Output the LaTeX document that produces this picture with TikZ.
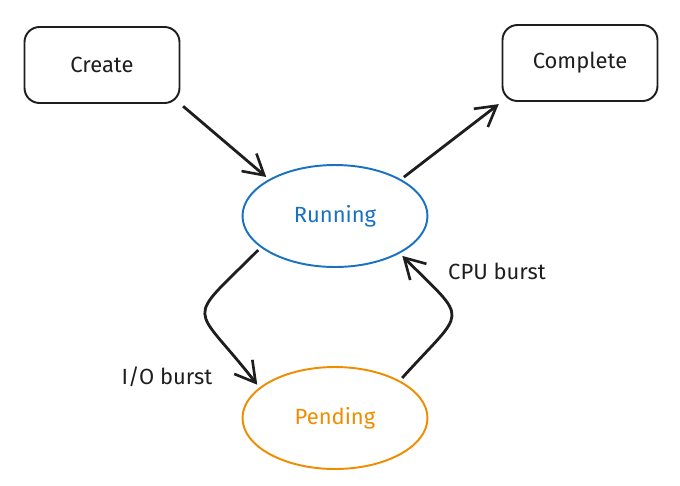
\documentclass[tikz,border=0pt]{standalone}
\usepackage{fontspec}
\setmainfont{Fira Sans}
\usepackage{xcolor}
\usetikzlibrary{shapes.geometric,arrows.meta}
\definecolor{runblue}{HTML}{1971C2}
\definecolor{pendorange}{HTML}{F08C00}
\definecolor{ink}{HTML}{1E1E1E}

\begin{document}
\begin{tikzpicture}[x=0.02cm,y=-0.02cm,
  every node/.style={font=\fontsize{12.5}{15}\selectfont,text=ink},
  state/.style={draw=ink,line width=1.1pt,rounded corners=3mm,minimum width=3.1cm,minimum height=1.52cm},
  proc/.style={ellipse,line width=1.1pt,minimum width=3.7cm,minimum height=2.04cm,inner sep=0pt},
  arr/.style={draw=ink,line width=1.6pt,-{Straight Barb[length=4mm,width=4.6mm,line width=1.5pt]},shorten <=2pt,shorten >=2pt}]
\useasboundingbox (0,0) rectangle (680,485);
\node[state] (create) at (102,65) {Create};
\node[state] (complete) at (580,63) {Complete};
\node[proc,draw=runblue,text=runblue] (running) at (335,216) {Running};
\node[proc,draw=pendorange,text=pendorange] (pending) at (335,418) {Pending};
\node (io) at (167,377) {I/O burst};
\node (cpu) at (497,271) {CPU burst};
\draw[arr] (create.south east) -- (running.north west);
\draw[arr] (running.north east) -- (complete.south west);
\draw[arr] (running.203) to[out=225,in=128,looseness=2] (pending.158);
\draw[arr] (pending.30) to[out=48,in=-45,looseness=2] (running.330);
\end{tikzpicture}
\end{document}
